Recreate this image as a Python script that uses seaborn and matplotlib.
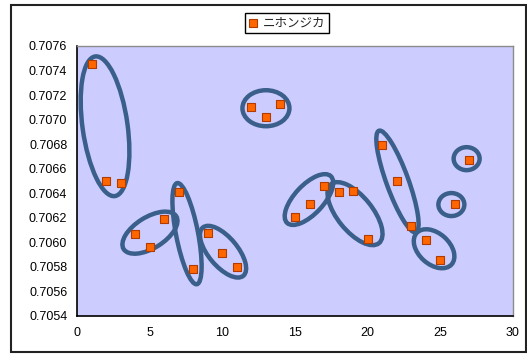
import matplotlib
matplotlib.use("Agg")
import matplotlib.pyplot as plt
from matplotlib.patches import Ellipse, Rectangle
from matplotlib.transforms import Affine2D, ScaledTranslation
import seaborn as sns
import pandas as pd

# Sample number and 87Sr/86Sr ratio
sample_no = list(range(1, 28))
sr_ratio = [0.70745, 0.70650, 0.70648, 0.70607, 0.70596, 0.70619, 0.70641,
            0.70578, 0.70608, 0.70591, 0.70580, 0.70710, 0.70702, 0.70713,
            0.70621, 0.70631, 0.70646, 0.70641, 0.70642, 0.70603, 0.70679,
            0.70650, 0.70613, 0.70602, 0.70586, 0.70631, 0.70667]
series_name = "ニホンジカ"

x_ticks = [0, 5, 10, 15, 20, 25, 30]
y_ticks = [0.7054, 0.7056, 0.7058, 0.7060, 0.7062, 0.7064, 0.7066,
           0.7068, 0.7070, 0.7072, 0.7074, 0.7076]

# Group outlines: centre (data units), width/height (pixels), angle (deg)
group_cx = [1.93, 5.02, 7.57, 10.05, 13.0, 15.96, 19.13, 22.05, 24.57, 25.76, 26.81]
group_cy = [0.706946, 0.706079, 0.706071, 0.705924, 0.707093, 0.706349,
            0.706234, 0.706496, 0.705948, 0.706308, 0.706682]
group_w = [141, 62, 103, 63, 47, 64, 76, 108, 47, 26, 26]
group_h = [45, 31, 22, 29, 36, 29, 35, 22, 31, 23, 23]
group_angle = [98, 32, 101, 130, 0, 47, 129, 110, 138, 0, 0]

df = pd.DataFrame({"no": sample_no, "sr": sr_ratio})

sns.set_style("white")
plt.rcParams["font.family"] = ["Liberation Sans", "Noto Sans CJK JP", "DejaVu Sans"]

fig = plt.figure(figsize=(5.27, 3.54), dpi=100)
fig.patch.set_facecolor("white")
ax = fig.add_axes([77 / 527, 38 / 354, 436 / 527, 270 / 354])
ax.set_facecolor("#ccccff")

sns.scatterplot(data=df, x="no", y="sr", ax=ax, marker="s", s=30,
                color="#ff6600", edgecolor="#b23c00", linewidth=0.8,
                label=series_name, zorder=3)

for cx, cy, w, h, a in zip(group_cx, group_cy, group_w, group_h, group_angle):
    tr = Affine2D() + ScaledTranslation(cx, cy, ax.transData)
    ax.add_patch(Ellipse((0, 0), w, h, angle=a, transform=tr, fill=False,
                         edgecolor="#3a5f8a", linewidth=3.2, zorder=2))

ax.set_xlim(0, 30)
ax.set_ylim(0.7054, 0.7076)
ax.set_xticks(x_ticks)
ax.set_yticks(y_ticks)
ax.set_xticklabels([str(t) for t in x_ticks])
ax.set_yticklabels([f"{t:.4f}" for t in y_ticks])
ax.set_xlabel("")
ax.set_ylabel("")
ax.tick_params(direction="in", length=4, width=1, colors="black",
               labelsize=9, pad=7)
ax.tick_params(axis="x", pad=8)

for side in ["left", "bottom"]:
    ax.spines[side].set_color("black")
    ax.spines[side].set_linewidth(1.2)
for side in ["top", "right"]:
    ax.spines[side].set_color("#8c8c8c")
    ax.spines[side].set_linewidth(1.0)

leg = ax.legend(loc="center", bbox_to_anchor=(287 / 527, 1 - 23 / 354),
                bbox_transform=fig.transFigure, frameon=True, fancybox=False,
                framealpha=1, edgecolor="black", fontsize=9,
                handlelength=0.8, handletextpad=0.4, borderpad=0.25,
                markerscale=1.0)
leg.get_frame().set_linewidth(1.0)
for t in leg.get_texts():
    t.set_fontfamily(["Noto Sans CJK JP", "DejaVu Sans"])

fig.add_artist(Rectangle((11 / 527, 2 / 354), 515 / 527, 347 / 354,
                         transform=fig.transFigure, fill=False,
                         edgecolor="#222222", linewidth=1.5))

fig.savefig("out.png", dpi=100)
